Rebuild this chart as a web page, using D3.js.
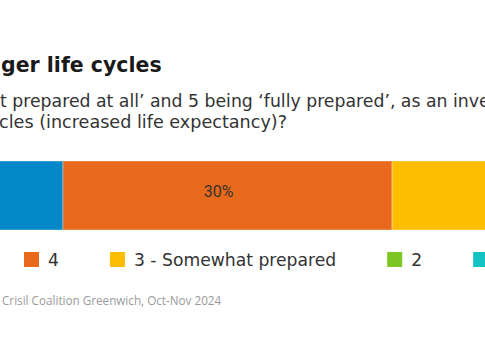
<!DOCTYPE html>
<html lang="en">
<head>
  <meta charset="UTF-8">
  <title>Preparedness for longer life cycles</title>
  <style>
    body { margin: 0; background: #fff; }
    svg { display: block; font-family: "DejaVu Sans", sans-serif; }
  </style>
</head>
<body>
  <svg id="chart"></svg>
  <script src="https://cdn.jsdelivr.net/npm/d3@7/dist/d3.min.js"></script>
  <script>
    // answer categories, share of respondents (%), colours
    var categories = ["5 - Fully prepared", "4", "3 - Somewhat prepared", "2", "1 - Not prepared at all"];
    var values = [34, 30, 25, 8, 3];
    var colors = ["#0288c9", "#e8691b", "#fdbd00", "#7dc623", "#13c3c3"];

    // texts, split where the visible window starts
    var title = ["How prepared are investors for lon", "ger life cycles"];
    var subtitle = [
      ["On a scale of 1 to 5, with 1 being \u2018no", "t prepared at all\u2019 and 5 being \u2018fully prepared\u2019, as an investor,"],
      ["how prepared are you for longer life cy", "cles (increased life expectancy)?"]
    ];
    var source = ["Source: ", "Crisil Coalition Greenwich, Oct-Nov 2024"];

    var width = 485, height = 360;
    var left = -310;           // chart's own left margin lies outside the window
    var barTop = 161, barH = 69;

    var svg = d3.select("#chart").attr("width", width).attr("height", height);

    // text whose visible part starts at vx
    function cutText(parts, vx, y, size, weight, color, family) {
      var t = svg.append("text")
        .attr("y", y)
        .attr("font-size", size)
        .attr("font-weight", weight)
        .attr("fill", color);
      if (family) t.attr("font-family", family);
      t.append("tspan").text(parts[0]);
      t.append("tspan").text(parts[1]);
      var pre = t.node().getSubStringLength(0, parts[0].length);
      t.attr("x", vx - pre);
      return t;
    }

    cutText(title, 1, 72, 20.5, 700, "#1a1a1a");
    cutText(subtitle[0], 0, 107, 17.3, 400, "#333");
    cutText(subtitle[1], -1, 128, 17.6, 400, "#333");

    // stacked bar
    var x = d3.scaleLinear().domain([0, 100]).range([left, left + 1097]);
    var stack = [];
    var acc = 0;
    values.forEach(function (v, i) {
      stack.push({ cat: categories[i], v: v, x0: acc, x1: acc + v, color: colors[i] });
      acc += v;
    });

    var seg = svg.selectAll(".seg").data(stack).enter().append("g").attr("class", "seg");
    seg.append("rect")
      .attr("x", d => x(d.x0))
      .attr("y", barTop)
      .attr("width", d => x(d.x1) - x(d.x0))
      .attr("height", barH)
      .attr("fill", d => d.color)
      .attr("stroke", "#fff")
      .attr("stroke-opacity", 0.35)
      .attr("stroke-width", 1);
    seg.filter(d => d.v >= 5).append("text")
      .attr("x", d => (x(d.x0) + x(d.x1)) / 2 - 9)
      .attr("y", barTop + barH / 2 + 1.5)
      .attr("text-anchor", "middle")
      .attr("font-family", "Roboto, sans-serif")
      .attr("font-size", 16)
      .attr("fill", "#333")
      .text(d => d.v + "%");

    // legend, laid out left to right, then shifted so it sits as in the original
    var legend = svg.append("g");
    var lx = 0;
    var items = [];
    categories.forEach(function (c, i) {
      var g = legend.append("g").attr("transform", "translate(" + lx + ",0)");
      g.append("rect").attr("x", 0).attr("y", 252).attr("width", 15).attr("height", 15).attr("fill", colors[i]);
      var t = g.append("text").attr("x", 24).attr("y", 266).attr("font-size", 17.2).attr("fill", "#333").text(c);
      items.push(lx);
      lx += 24 + t.node().getComputedTextLength() + 51;
    });
    legend.attr("transform", "translate(" + (24 - items[1]) + ",0)");

    cutText(source, 2, 305, 11.7, 400, "#9a9a9a", "Open Sans, sans-serif");
  </script>
</body>
</html>
